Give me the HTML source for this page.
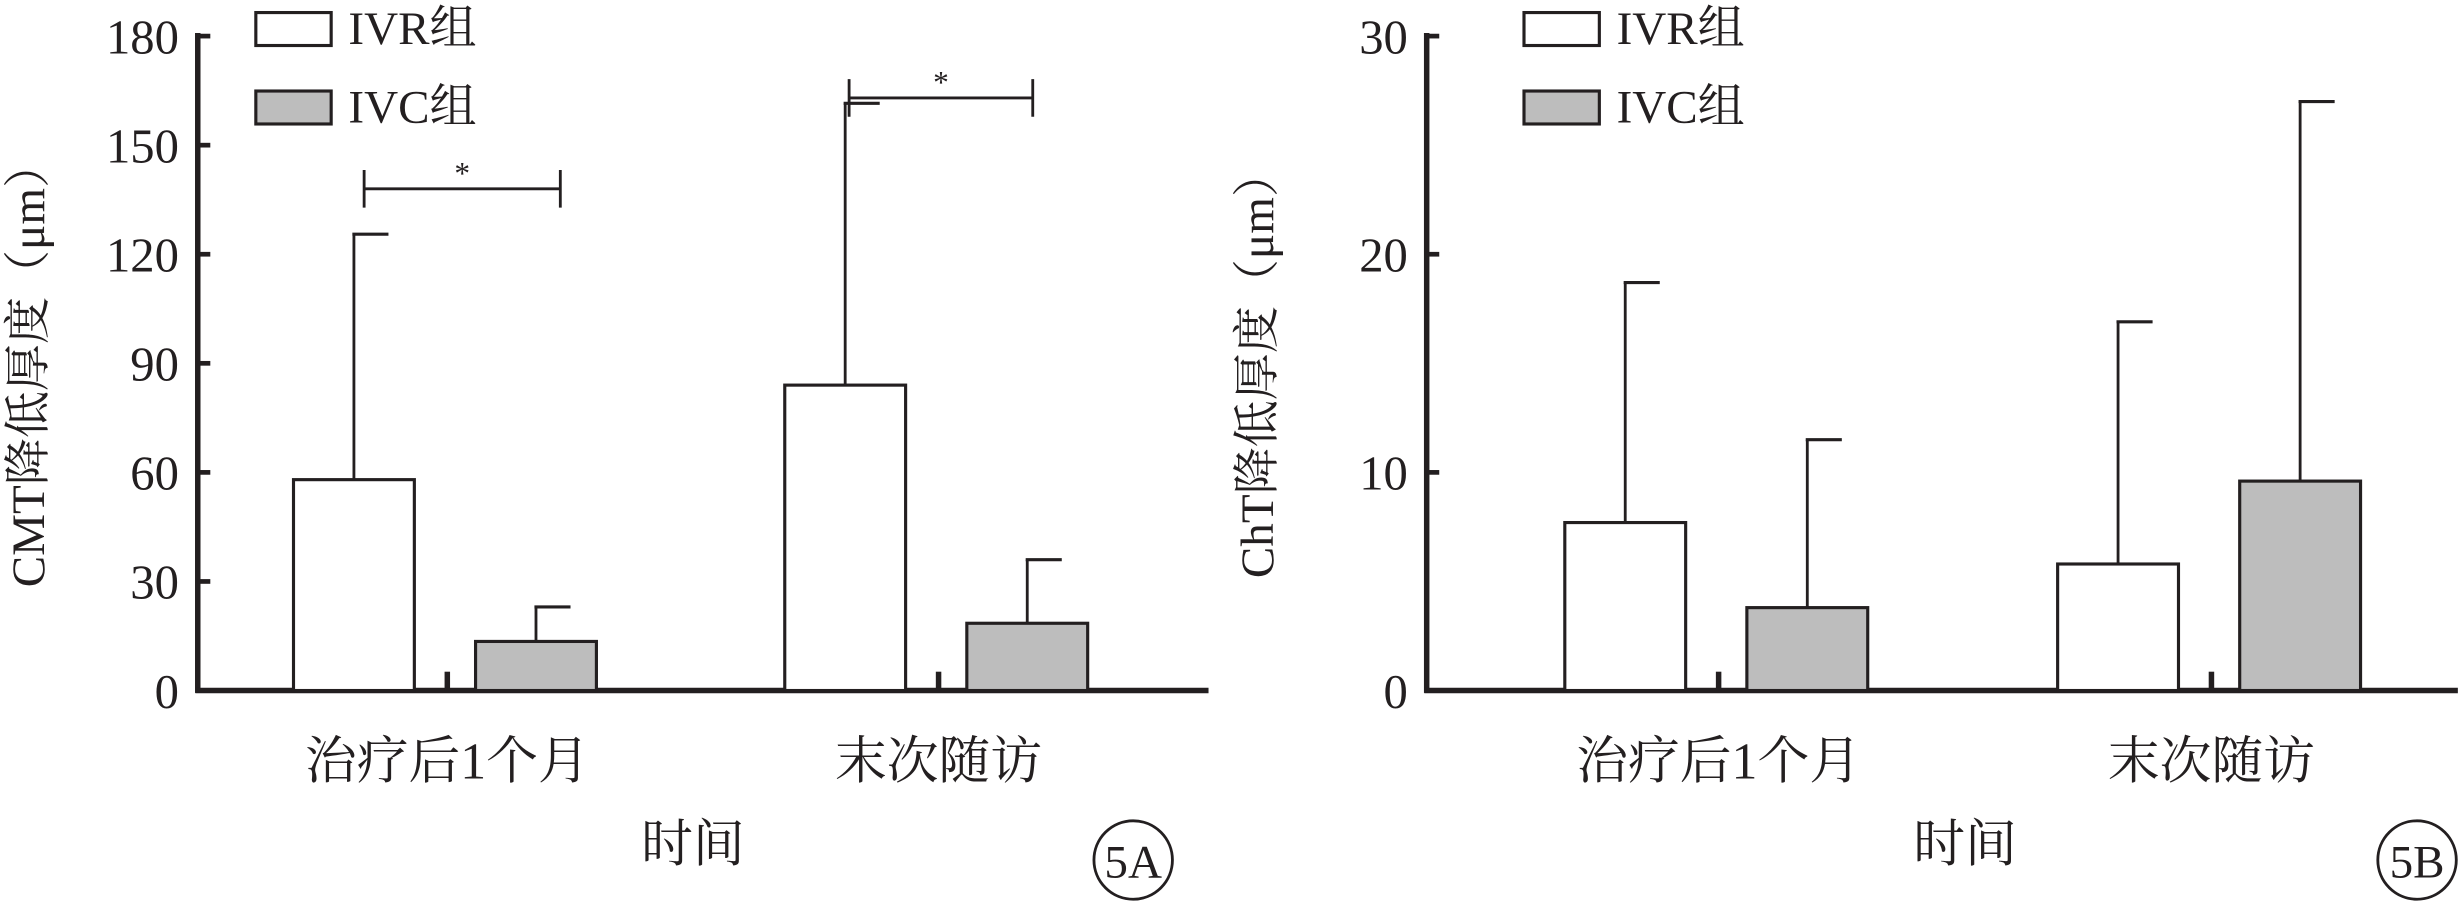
<!DOCTYPE html>
<html><head><meta charset="utf-8">
<style>
html,body{margin:0;padding:0;background:#fff;}
svg{display:block;}
text{font-family:"Liberation Serif","Noto Serif CJK SC",serif;fill:#231f20;}
</style></head>
<body>
<svg id="fig" width="2461" height="906" viewBox="0 0 1568 577.3" preserveAspectRatio="none" xmlns="http://www.w3.org/2000/svg"></svg>
<script>
const categories = ["治疗后1个月", "末次随访"];
const seriesNames = ["IVR组", "IVC组"];
const cmtMeans = [[58, 84], [13.5, 18.5]];
const cmtErrors = [[125.5, 161.5], [23, 36]];
const cmtTicks = [0, 30, 60, 90, 120, 150, 180];
const chtMeans = [[7.7, 5.8], [3.8, 9.6]];
const chtErrors = [[18.7, 16.9], [11.5, 27]];
const chtTicks = [0, 10, 20, 30];

const NS = "http://www.w3.org/2000/svg";
const svg = document.getElementById('fig');
function mk(tag, attrs, parent, txt) {
  const e = document.createElementNS(NS, tag);
  for (const k in attrs) e.setAttribute(k, attrs[k]);
  if (txt !== undefined) e.textContent = txt;
  (parent || svg).appendChild(e);
  return e;
}
const fills = ["#ffffff", "#bdbdbd"];

function drawChart(o) {
  const g = mk('g', {});
  
  
  const y0 = 440, y1 = 23;
  const ymax = o.ticks[o.ticks.length - 1];
  const ys = v => y0 - (v / ymax) * (y0 - y1);
  const ax = o.axisX;
  // axes
  const yaxis = mk('line', {x1: ax, y1: y1 - 2, x2: ax, y2: y0 + 1.5, stroke: '#231f20', 'stroke-width': 3.5}, g);
  
  
  const xaxis = mk('line', {x1: ax - 1.5, y1: y0, x2: o.axisEnd, y2: y0, stroke: '#231f20', 'stroke-width': 3.5}, g);
  
  
  o.ticks.forEach(t => {
    const y = ys(t);
    const tk = mk('line', {x1: ax, y1: y, x2: ax + 8, y2: y, stroke: '#231f20', 'stroke-width': 3}, g);
    
    
    const lb = mk('text', {x: ax - 12, y: y + 11, 'text-anchor': 'end', 'font-size': 31}, g, String(t));
    
    
  });
  // y title
  const yt = mk('text', {x: 0, y: 0, 'text-anchor': 'middle', 'font-size': 30, transform: `translate(${ax - 98},232) rotate(-90)`}, g, o.ytitle);
  
  
  // categories
  const groupW = o.groupW, barW = 77;
  categories.forEach((c, ci) => {
    const cx = o.firstCenter + ci * groupW;
    const tk = mk('line', {x1: cx, y1: y0, x2: cx, y2: y0 - 12, stroke: '#231f20', 'stroke-width': 3.5}, g);
    
    
    const lb = mk('text', {x: cx, y: 496, 'text-anchor': 'middle', 'font-size': 33}, g, c);
    
    
    seriesNames.forEach((s, si) => {
      const bx = si === 0 ? cx - 98 : cx + 18;
      const m = o.means[si][ci], e = o.errors[si][ci];
      const bc = bx + barW / 2;
      const el = mk('line', {x1: bc, y1: ys(m), x2: bc, y2: ys(e), stroke: '#231f20', 'stroke-width': 1.8}, g);
      
      
      const cap = mk('line', {x1: bc - 1, y1: ys(e), x2: bc + 22, y2: ys(e), stroke: '#231f20', 'stroke-width': 2}, g);
      
      
      const r = mk('rect', {x: bx, y: ys(m), width: barW, height: y0 - ys(m), fill: fills[si], stroke: '#231f20', 'stroke-width': 2}, g);
      
      
    });
  });
  // legend
  seriesNames.forEach((s, si) => {
    const ly = 8 + si * 50;
    const r = mk('rect', {x: o.legendX, y: ly, width: 48, height: 21, fill: fills[si], stroke: '#231f20', 'stroke-width': 2}, g);
    
    
    const t = mk('text', {x: o.legendX + 59, y: ly + 20, 'font-size': 30}, g, s);
    
    
  });
  // x title
  const xt = mk('text', {x: o.firstCenter + groupW / 2, y: 549, 'text-anchor': 'middle', 'font-size': 33}, g, '时间');
  
  
  // panel label
  const c = mk('circle', {cx: o.panelX, cy: 548, r: 25, fill: 'none', stroke: '#231f20', 'stroke-width': 1.8}, g);
  
  
  const pt = mk('text', {x: o.panelX, y: 559, 'text-anchor': 'middle', 'font-size': 30}, g, o.panel);
  
  
  // significance
  (o.sig || []).forEach(sg => {
    const y = ys(sg.v);
    const ln = mk('path', {d: `M${sg.x1},${y - 12}V${y + 12}M${sg.x1},${y}H${sg.x2}M${sg.x2},${y - 12}V${y + 12}`, fill: 'none', stroke: '#231f20', 'stroke-width': 1.8}, g);
    
    
    const st = mk('text', {x: (sg.x1 + sg.x2) / 2, y: y - 3, 'text-anchor': 'middle', 'font-size': 20}, g, '*');
    
    
  });
}

drawChart({name: 'chart-5a-cmt', axisX: 126, axisEnd: 770, firstCenter: 285, groupW: 313,
  means: cmtMeans, errors: cmtErrors, ticks: cmtTicks, ytitle: 'CMT降低厚度（μm）',
  legendX: 163, panel: '5A', panelX: 722,
  sig: [{x1: 232, x2: 357, v: 138}, {x1: 541, x2: 658, v: 163}]});
drawChart({name: 'chart-5b-cht', axisX: 909, axisEnd: 1566, firstCenter: 1095, groupW: 314,
  means: chtMeans, errors: chtErrors, ticks: chtTicks, ytitle: 'ChT降低厚度（μm）',
  legendX: 971, panel: '5B', panelX: 1540});
</script>
</body></html>
